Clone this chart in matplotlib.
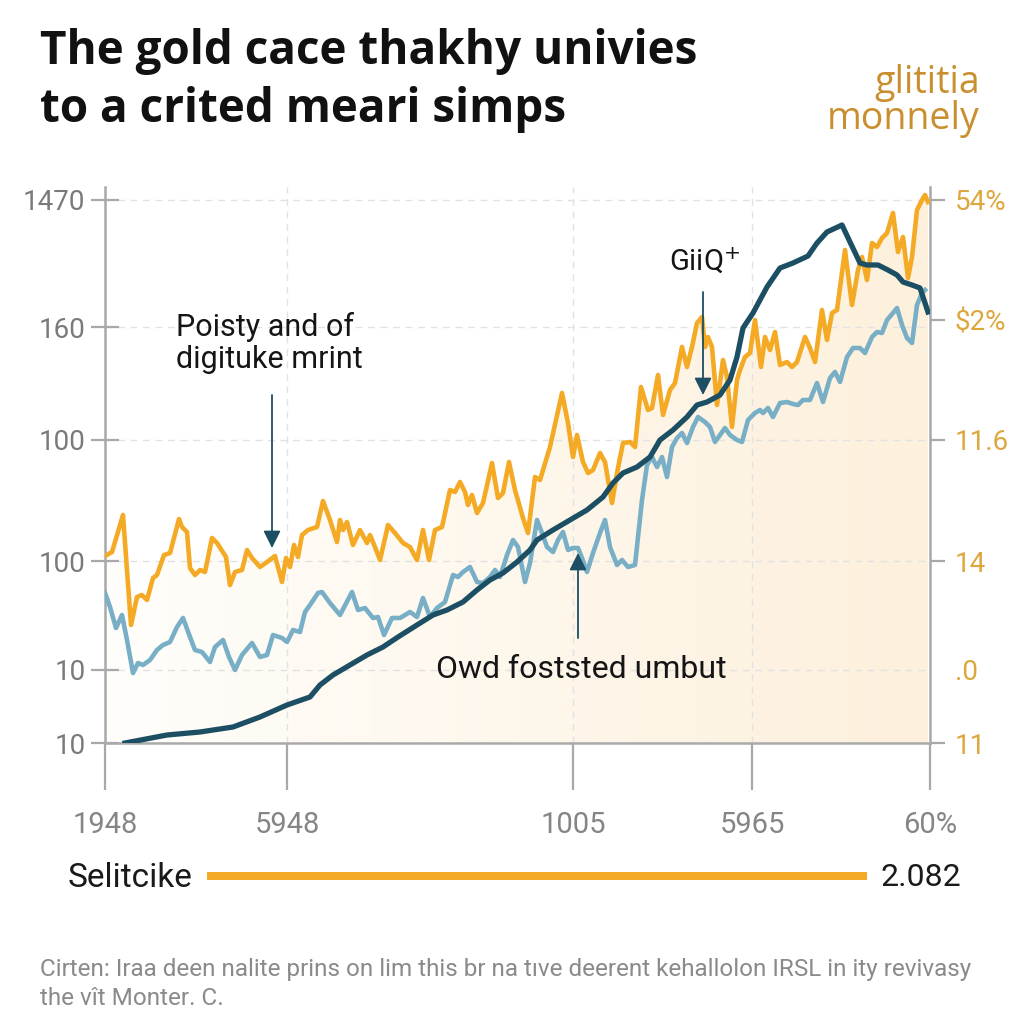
import numpy as np
import matplotlib.pyplot as plt
from matplotlib.colors import LinearSegmentedColormap

# values
gold_t = [0, 7, 18, 26, 32, 37, 42, 48, 52, 59, 65, 74, 77, 82, 85, 90, 95, 100, 107, 112,
          121, 125, 130, 137, 142, 147, 155, 162, 170, 173, 177, 181, 185, 189, 193, 197, 203, 212, 218, 225,
          232, 235, 238, 242, 248, 255, 262, 265, 270, 275, 283, 290, 298, 305, 312, 318, 324, 330, 337, 345,
          350, 355, 360, 363, 367, 372, 378, 387, 393, 398, 404, 410, 418, 423, 430, 435, 445, 457, 463, 468,
          472, 478, 483, 488, 495, 500, 507, 512, 518, 525, 530, 536, 543, 547, 553, 558, 565, 570, 577, 582,
          587, 592, 597, 600, 603, 607, 612, 618, 622, 627, 632, 635, 640, 645, 650, 656, 660, 665, 670, 675,
          682, 687, 692, 700, 705, 710, 717, 722, 727, 732, 740, 747, 753, 757, 762, 767, 772, 777, 782, 788,
          793, 798, 803, 807, 812, 817, 820, 823]
gold_v = [187, 191, 228, 118, 146, 148, 143, 165, 168, 188, 190, 224, 216, 211, 175, 168, 173, 171, 205, 200,
          186, 158, 171, 173, 193, 185, 176, 181, 187, 176, 161, 185, 176, 198, 186, 208, 213, 216, 242, 223,
          201, 223, 213, 221, 198, 213, 200, 208, 196, 183, 218, 210, 200, 196, 183, 213, 183, 213, 216, 253,
          251, 261, 251, 238, 248, 230, 240, 280, 245, 250, 281, 253, 225, 210, 266, 263, 296, 350, 320, 286,
          308, 281, 270, 273, 290, 281, 240, 270, 300, 301, 296, 356, 333, 335, 368, 328, 353, 360, 396, 376,
          396, 420, 426, 396, 406, 396, 338, 383, 366, 316, 363, 373, 386, 390, 423, 376, 406, 393, 411, 378,
          381, 376, 381, 406, 395, 381, 433, 403, 430, 433, 493, 438, 473, 486, 463, 500, 496, 505, 510, 530,
          491, 506, 465, 486, 533, 543, 548, 541]

blue_t = [0, 5, 11, 17, 22, 28, 33, 38, 45, 52, 58, 65, 72, 78, 85, 90, 97, 105, 110, 118,
          124, 130, 137, 147, 155, 162, 168, 177, 182, 188, 195, 200, 205, 213, 217, 225, 235, 247, 253, 260,
          268, 273, 279, 287, 295, 305, 312, 318, 325, 332, 340, 348, 353, 358, 365, 372, 378, 385, 390, 395,
          402, 408, 413, 420, 425, 432, 437, 442, 448, 453, 458, 463, 468, 473, 477, 482, 488, 495, 500, 505,
          512, 517, 523, 530, 537, 542, 547, 552, 557, 562, 567, 572, 577, 582, 588, 593, 600, 605, 610, 615,
          620, 625, 632, 637, 643, 650, 655, 658, 663, 668, 675, 682, 688, 693, 698, 705, 712, 718, 725, 730,
          735, 742, 748, 755, 760, 767, 772, 777, 782, 788, 792, 797, 802, 807, 812, 817, 820]
blue_v = [150, 136, 115, 128, 103, 70, 80, 78, 83, 93, 98, 101, 116, 125, 106, 93, 91, 81, 96, 103,
          86, 73, 88, 100, 86, 88, 108, 105, 101, 113, 111, 131, 138, 150, 151, 140, 128, 151, 133, 135,
          125, 126, 108, 125, 125, 131, 126, 145, 126, 135, 141, 168, 166, 171, 176, 161, 160, 166, 173, 166,
          188, 203, 196, 161, 180, 223, 210, 196, 191, 203, 211, 193, 195, 195, 185, 171, 190, 210, 223, 196,
          178, 183, 176, 178, 243, 278, 286, 276, 286, 266, 296, 305, 310, 300, 316, 326, 321, 316, 301, 308,
          315, 308, 303, 301, 323, 330, 333, 330, 335, 326, 340, 341, 339, 338, 343, 343, 360, 341, 365, 371,
          361, 386, 395, 395, 390, 406, 411, 410, 423, 430, 435, 418, 405, 400, 438, 450, 453]

teal_t = [20, 62, 95, 128, 155, 182, 205, 215, 228, 245, 262, 278, 293, 312, 328, 342, 358, 372, 385, 398,
          412, 425, 432, 448, 465, 482, 498, 508, 518, 532, 545, 555, 568, 582, 592, 602, 615, 625, 632, 638,
          648, 662, 675, 688, 703, 712, 722, 737, 745, 755, 762, 773, 783, 792, 798, 807, 815, 823]
teal_v = [0, 8, 11, 16, 26, 38, 46, 58, 68, 78, 88, 96, 106, 118, 128, 133, 141, 153, 163, 170,
          181, 193, 203, 213, 223, 233, 246, 260, 270, 276, 286, 303, 313, 326, 338, 341, 348, 363, 386, 415,
          430, 456, 475, 480, 487, 500, 511, 518, 501, 480, 478, 478, 473, 468, 461, 458, 455, 431]

left_ticks = [0, 73, 182, 303, 416, 543]
left_labels = ['10', '10', '100', '100', '160', '1470']
right_ticks = [0, 73, 182, 303, 423, 543]
right_labels = ['11', '.0', '14', '11.6', r'\$2%', '54%']
x_ticks = [0, 182, 468, 647, 825]
x_labels = ['1948', '5948', '1005', '5965', '60%']

bar_name = 'Selitcike'
bar_value = 2.082

GOLD = '#f4aa25'
BLUE = '#78afc6'
TEAL = '#1c4f63'
GREY = '#a9a9a9'
SANS = ['Roboto', 'DejaVu Sans']

fig = plt.figure(figsize=(10.24, 10.24), dpi=100)
fig.patch.set_facecolor('white')
ax = fig.add_axes([105 / 1024, 1 - 743 / 1024, 825 / 1024, 556 / 1024])
ax.set_xlim(0, 825)
ax.set_ylim(0, 556)

# cream gradient under the gold line
cmap = LinearSegmentedColormap.from_list('cream', ['#fffefb', '#fdf0dc'])
fill = ax.fill_between(gold_t, gold_v, 0, color='none', lw=0)
grad = np.linspace(0, 1, 256).reshape(1, -1)
im = ax.imshow(grad, extent=[0, 825, 0, 556], aspect='auto', cmap=cmap, zorder=0.3)
im.set_clip_path(fill.get_paths()[0], transform=ax.transData)

ax.plot(blue_t, blue_v, color=BLUE, lw=3.3, zorder=3)
ax.plot(gold_t, gold_v, color=GOLD, lw=3.3, zorder=3)
ax.plot(teal_t, teal_v, color=TEAL, lw=3.8, zorder=4)

ax.set_axisbelow(True)
ax.grid(color='#e2e2e2', lw=1, ls=(0, (5, 4)))

for s in ['left', 'right', 'bottom']:
    ax.spines[s].set_color(GREY)
    ax.spines[s].set_linewidth(1.8)
ax.spines['top'].set_visible(False)

ax.set_yticks(left_ticks)
ax.set_yticklabels(left_labels, family=SANS, fontsize=20, color='#7a7a7a')
ax.tick_params(axis='y', direction='inout', length=20, width=1.6, color=GREY, pad=4)
ax.set_xticks(x_ticks)
ax.set_xticklabels(x_labels, family=SANS, fontsize=21, color='#858585')
ax.tick_params(axis='x', direction='out', length=34, width=1.6, color=GREY, pad=15)
ax.yaxis.get_major_ticks()[1].tick1line.set_visible(False)

ax2 = ax.twinx()
ax2.set_ylim(0, 556)
for s in ax2.spines.values():
    s.set_visible(False)
ax2.set_yticks(right_ticks)
ax2.set_yticklabels(right_labels, family=SANS, fontsize=20, color='#dea73e')
ax2.tick_params(axis='y', direction='out', length=11, width=1.6, color=GREY, pad=7)
ax2.yaxis.get_major_ticks()[1].tick2line.set_visible(False)

# callouts
arrow = dict(arrowstyle='-|>', mutation_scale=26, lw=1.3, color=TEAL, shrinkA=0, shrinkB=0)
ax.annotate('', xy=(167, 195), xytext=(167, 348), arrowprops=arrow, zorder=5)
ax.annotate('', xy=(598, 348), xytext=(598, 451), arrowprops=arrow, zorder=5)
ax.annotate('', xy=(473, 190), xytext=(473, 105), arrowprops=arrow, zorder=5)
ax.text(71, 400, 'Poisty and of\ndigituke mrint', family=SANS, fontsize=22, color='#151515',
        ha='left', va='center', linespacing=1.1)
ax.text(600, 481, 'GiiQ$^{+}$', family=SANS, fontsize=21, color='#151515', ha='center', va='center')
ax.text(476, 73, 'Owd foststed umbut', family=SANS, fontsize=23, color='#151515', ha='center', va='center')

# titles
TITLE = ['Open Sans', 'DejaVu Sans']
fig.text(40 / 1024, 1 - 64 / 1024, 'The gold cace thakhy univies', family=TITLE,
         fontweight='bold', fontsize=33, color='#111111', va='baseline')
fig.text(40 / 1024, 1 - 122 / 1024, 'to a crited meari simps', family=TITLE,
         fontweight='bold', fontsize=33, color='#111111', va='baseline')
fig.text(980 / 1024, 1 - 101 / 1024, 'glititia\nmonnely', family=TITLE,
         fontsize=27, color='#c98f2e', ha='right', va='center', linespacing=0.95)

# bottom bar row
bar_ax = fig.add_axes([207 / 1024, 1 - 880 / 1024, 660 / 1024, 8 / 1024])
bar_ax.barh(0, bar_value, height=1, color=GOLD)
bar_ax.set_xlim(0, bar_value)
bar_ax.set_ylim(-0.5, 0.5)
bar_ax.axis('off')
fig.text(68 / 1024, 1 - 878 / 1024, bar_name, family=SANS, fontsize=24, color='#1a1a1a', va='center')
fig.text(880 / 1024, 1 - 878 / 1024, f'{bar_value:.3f}', family=SANS, fontsize=23, color='#1a1a1a', va='center')

# source note
fig.text(40 / 1024, 1 - 976 / 1024,
         'Cirten: Iraa deen nalite prins on lim this br na tıve deerent kehallolon IRSL in ity revivasy',
         family=SANS, fontsize=17.5, color='#8a8a8a', va='baseline')
fig.text(40 / 1024, 1 - 1005 / 1024, 'the vît Monter. C.', family=SANS, fontsize=17.5, color='#8a8a8a',
         va='baseline')

fig.savefig('out.png', dpi=100)
